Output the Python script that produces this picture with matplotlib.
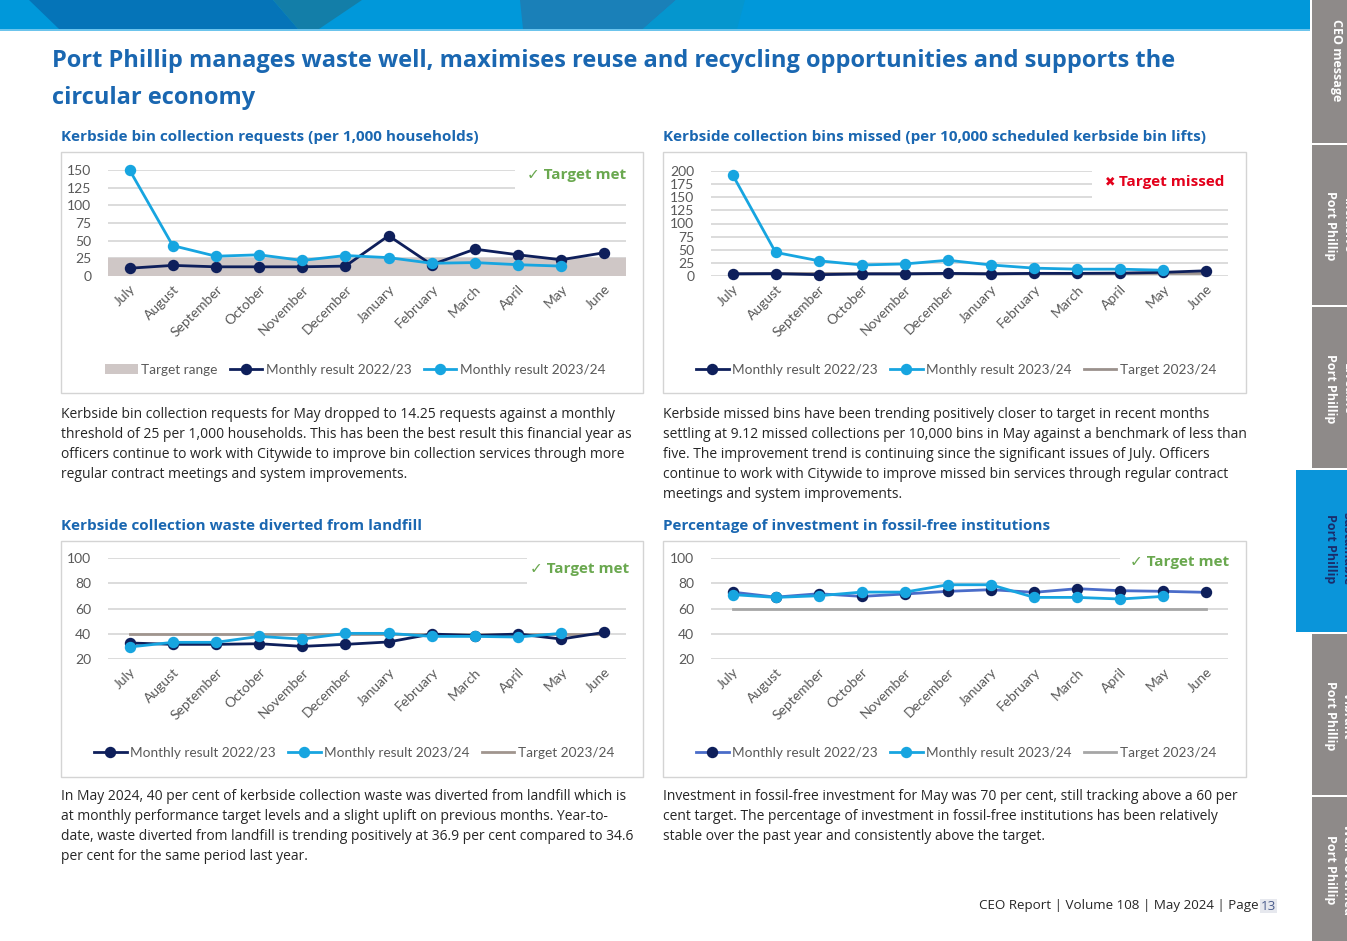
import matplotlib
matplotlib.use("Agg")
import matplotlib.pyplot as plt
from matplotlib.patches import Rectangle, Polygon, Patch
from matplotlib.lines import Line2D

W, H = 1347, 941

months = ["July", "August", "September", "October", "November", "December",
          "January", "February", "March", "April", "May", "June"]

# Kerbside bin collection requests (per 1,000 households)
req_2223 = [11, 15, 13, 13, 13, 14, 57, 16, 38, 30, 23, 33]
req_2324 = [150, 43, 28, 30, 22, 29, 26, 18, 19, 16, 14]
req_target_range = 25

# Kerbside collection bins missed (per 10,000 lifts)
missed_2223 = [4, 4.5, 2.5, 4, 4, 5, 4, 5, 5, 5.5, 7, 10]
missed_2324 = [193, 45, 29, 21, 23, 30, 21, 15, 13, 13, 11]
missed_target = 5

# Waste diverted from landfill (%)
landfill_2223 = [32.7, 31.6, 31.6, 32.1, 30, 31.6, 33.5, 39.8, 38.5, 39.8, 35.8, 41.1]
landfill_2324 = [29.5, 33.2, 33.2, 37.9, 35.8, 40.3, 40.3, 37.9, 37.9, 37.4, 40.3]
landfill_target = 40

# Investment in fossil-free institutions (%)
fossil_2223 = [73, 69, 71.7, 69.6, 71.5, 73.6, 74.9, 72.8, 75.7, 74.1, 73.6, 72.8]
fossil_2324 = [71, 68.8, 70.1, 73, 73, 78.8, 78.8, 68.8, 68.8, 67.5, 69.6]
fossil_target = 60

NAVY = "#0E1F5B"
LIGHT = "#17A5E0"
MID = "#4A6CC9"
GRID = "#D9D9D9"
TICK = "#595959"
BLUE_TXT = "#1A67B1"
GREEN = "#6AA84F"
RED = "#E3001B"

BODY_FONT = ["Open Sans", "DejaVu Sans"]
CHART_FONT = ["Lato", "DejaVu Sans"]

fig = plt.figure(figsize=(W / 100, H / 100), dpi=100)
fig.patch.set_facecolor("white")


def fx(x):
    return x / W


def fy(y):
    return 1 - y / H


def rect(l, t, r, b):
    return [l / W, 1 - b / H, (r - l) / W, (b - t) / H]


def ftext(x, y, s, **kw):
    fig.text(fx(x), fy(y), s, **kw)


# ── top banner ────────────────────────────────────────────
fig.patches.append(Rectangle((0, fy(29)), fx(1310), 29 / H, transform=fig.transFigure,
                             facecolor="#0098DA", edgecolor="none"))
fig.patches.append(Rectangle((0, fy(31)), fx(1310), 2 / H, transform=fig.transFigure,
                             facecolor="#6CC4EC", edgecolor="none"))
banner_polys = [
    ([(29, 0), (273, 0), (298, 29), (59, 29)], "#0574B8"),
    ([(273, 0), (362, 0), (319, 29), (298, 29)], "#137EA8"),
    ([(520, 0), (676, 0), (643, 29), (523, 29)], "#1A80B8"),
    ([(676, 0), (745, 0), (737, 29), (643, 29)], "#0596CE"),
]
for pts, col in banner_polys:
    fig.patches.append(Polygon([(fx(a), fy(b)) for a, b in pts], closed=True,
                               transform=fig.transFigure, facecolor=col, edgecolor="none"))

# ── right side tabs ───────────────────────────────────────
tabs = [
    (0, 143, "CEO message", None),
    (145, 305, "Port Phillip", "Inclusive"),
    (307, 468, "Port Phillip", "Liveable"),
    (634, 795, "Port Phillip", "Vibrant"),
    (797, 941, "Port Phillip", "Well-Governed"),
]
for t, b, line2, line1 in tabs:
    fig.patches.append(Rectangle((fx(1312), fy(b)), fx(35), (b - t) / H,
                                 transform=fig.transFigure, facecolor="#8E8A89",
                                 edgecolor="none"))
    mid = (t + b) / 2
    if line1 is None:
        ftext(1337, t + 60, line2, rotation=270, ha="center", va="center",
              color="white", fontsize=9, fontweight="bold", family=BODY_FONT)
    else:
        ftext(1331, mid + 1, line2, rotation=270, ha="center", va="center",
              color="white", fontsize=9, fontweight="bold", family=BODY_FONT)
        ftext(1347, mid + 1, line1, rotation=270, ha="center", va="center",
              color="white", fontsize=9, fontweight="bold", family=BODY_FONT)
fig.patches.append(Rectangle((fx(1296), fy(632)), fx(51), 162 / H,
                             transform=fig.transFigure, facecolor="#0A95DA",
                             edgecolor="none"))
ftext(1331, 549, "Port Phillip", rotation=270, ha="center", va="center",
      color="#1B2C6B", fontsize=9, fontweight="bold", family=BODY_FONT)
ftext(1347, 549, "Sustainable", rotation=270, ha="center", va="center",
      color="#1B2C6B", fontsize=9, fontweight="bold", family=BODY_FONT)

# ── page title ────────────────────────────────────────────
ftext(52, 61, "Port Phillip manages waste well, maximises reuse and recycling "
      "opportunities and supports the", fontsize=17, fontweight="bold",
      color=BLUE_TXT, va="center", family=BODY_FONT)
ftext(52, 98, "circular economy", fontsize=17, fontweight="bold",
      color=BLUE_TXT, va="center", family=BODY_FONT)

# ── chart panels ──────────────────────────────────────────
panels = [
    dict(box=(61, 152, 643, 393), ax=(108, 170, 626, 276), lim=(0, 150), step=25,
         title="Kerbside bin collection requests (per 1,000 households)",
         s1=req_2223, s2=req_2324, target=None, band=req_target_range,
         c1=NAVY, tcol=None, leg_xy=(355, 370), badge="met", badge_xy=(527, 175),
         mask=(515, 160, 640, 196)),
    dict(box=(663, 152, 1246, 393), ax=(711, 171, 1228, 276), lim=(0, 200), step=25,
         title="Kerbside collection bins missed (per 10,000 scheduled kerbside bin lifts)",
         s1=missed_2223, s2=missed_2324, target=missed_target, band=None,
         c1=NAVY, tcol="#9A918C", leg_xy=(956, 370), badge="missed", badge_xy=(1105, 182),
         mask=(1092, 163, 1240, 203)),
    dict(box=(61, 541, 643, 777), ax=(108, 558, 626, 659), lim=(20, 100), step=20,
         title="Kerbside collection waste diverted from landfill",
         s1=landfill_2223, s2=landfill_2324, target=landfill_target, band=None,
         c1=NAVY, tcol="#A0958E", leg_xy=(354, 753), badge="met", badge_xy=(530, 569),
         mask=(527, 550, 640, 590)),
    dict(box=(663, 541, 1246, 777), ax=(711, 558, 1228, 659), lim=(20, 100), step=20,
         title="Percentage of investment in fossil-free institutions",
         s1=fossil_2223, s2=fossil_2324, target=fossil_target, band=None,
         c1=MID, tcol="#A6A6A6", leg_xy=(956, 753), badge="met", badge_xy=(1130, 562),
         mask=(1120, 550, 1240, 572)),
]

for p in panels:
    l, t, r, b = p["box"]
    fig.patches.append(Rectangle((fx(l), fy(b)), (r - l) / W, (b - t) / H,
                                 transform=fig.transFigure, facecolor="none",
                                 edgecolor="#D4D4D4", linewidth=1.0))
    ftext(l, t - 15, p["title"], fontsize=11, fontweight="bold", color=BLUE_TXT,
          va="center", family=BODY_FONT)

    ax = fig.add_axes(rect(*p["ax"]))
    ax.set_facecolor("none")
    lo, hi = p["lim"]
    x = list(range(len(months)))
    ax.set_xlim(-0.5, len(months) - 0.5)
    ax.set_ylim(lo, hi)
    ax.set_yticks(list(range(lo, hi + 1, p["step"])))
    ax.set_axisbelow(True)
    ax.grid(axis="y", color=GRID, linewidth=1.3)
    for sp in ax.spines.values():
        sp.set_visible(False)
    ax.tick_params(length=0, colors=TICK, labelsize=10)
    ax.tick_params(axis="y", pad=12)
    ax.tick_params(axis="x", pad=5)
    ax.set_xticks(x)
    ax.set_xticklabels(months, rotation=45, ha="right", va="top",
                       rotation_mode="anchor", fontsize=10, color=TICK)
    for lab in ax.get_xticklabels() + ax.get_yticklabels():
        lab.set_family(CHART_FONT)

    ml, mt, mr, mb = p["mask"]
    ax.add_patch(Rectangle((fx(ml), fy(mb)), (mr - ml) / W, (mb - mt) / H,
                           transform=fig.transFigure, facecolor="white",
                           edgecolor="none", zorder=1, clip_on=False))

    handles = []
    if p["band"] is not None:
        ax.axhspan(0, p["band"], color="#CFC7C6", zorder=1.5)
        handles.append(Patch(facecolor="#CFC7C6", label="Target range"))
    if p["target"] is not None:
        ax.plot(x, [p["target"]] * len(x), color=p["tcol"], linewidth=2, zorder=2)
    ax.plot(x, p["s1"], color=p["c1"], linewidth=2, marker="o", markersize=7.2,
            markerfacecolor=NAVY, markeredgecolor=NAVY, zorder=3, clip_on=False)
    ax.plot(x[:len(p["s2"])], p["s2"], color=LIGHT, linewidth=2, marker="o",
            markersize=7.2, markerfacecolor=LIGHT, markeredgecolor=LIGHT, zorder=4,
            clip_on=False)
    handles.append(Line2D([], [], color=p["c1"], linewidth=2, marker="o", markersize=7.2,
                          markerfacecolor=NAVY, markeredgecolor=NAVY,
                          label="Monthly result 2022/23"))
    handles.append(Line2D([], [], color=LIGHT, linewidth=2, marker="o", markersize=7.2,
                          label="Monthly result 2023/24"))
    if p["target"] is not None:
        handles.append(Line2D([], [], color=p["tcol"], linewidth=2,
                              label="Target 2023/24"))

    lx, ly = p["leg_xy"]
    leg = ax.legend(handles=handles, loc="center", ncol=len(handles),
                    bbox_to_anchor=(fx(lx), fy(ly)), bbox_transform=fig.transFigure,
                    frameon=False, fontsize=9.8, handlelength=2.4,
                    handletextpad=0.25, columnspacing=0.9, labelcolor=TICK)
    for txt in leg.get_texts():
        txt.set_family(CHART_FONT)

    bx, by = p["badge_xy"]
    if p["badge"] == "met":
        ftext(bx, by, "✓ Target met", fontsize=11, fontweight="bold", color=GREEN,
              va="center", family=["Open Sans", "DejaVu Sans"])
    else:
        ftext(bx, by, "✖", fontsize=9, color=RED, va="center", family=["DejaVu Sans"])
        ftext(bx + 14, by, "Target missed", fontsize=11, fontweight="bold", color=RED,
              va="center", family=BODY_FONT)

# ── body paragraphs ───────────────────────────────────────
paragraphs = [
    (61, 415, [
        "Kerbside bin collection requests for May dropped to 14.25 requests against a monthly",
        "threshold of 25 per 1,000 households. This has been the best result this financial year as",
        "officers continue to work with Citywide to improve bin collection services through more",
        "regular contract meetings and system improvements.",
    ]),
    (663, 415, [
        "Kerbside missed bins have been trending positively closer to target in recent months",
        "settling at 9.12 missed collections per 10,000 bins in May against a benchmark of less than",
        "five. The improvement trend is continuing since the significant issues of July. Officers",
        "continue to work with Citywide to improve missed bin services through regular contract",
        "meetings and system improvements.",
    ]),
    (61, 797, [
        "In May 2024, 40 per cent of kerbside collection waste was diverted from landfill which is",
        "at monthly performance target levels and a slight uplift on previous months. Year-to-",
        "date, waste diverted from landfill is trending positively at 36.9 per cent compared to 34.6",
        "per cent for the same period last year.",
    ]),
    (663, 797, [
        "Investment in fossil-free investment for May was 70 per cent, still tracking above a 60 per",
        "cent target. The percentage of investment in fossil-free institutions has been relatively",
        "stable over the past year and consistently above the target.",
    ]),
]
for px, py, lines in paragraphs:
    for i, line in enumerate(lines):
        ftext(px, py + i * 19.8, line, fontsize=10, color="#262626", va="center",
              family=BODY_FONT)

# ── footer ────────────────────────────────────────────────
ftext(1276, 906, "13", fontsize=9.6, color="#4A5C8C", ha="right", va="center",
      family=BODY_FONT, bbox=dict(facecolor="#E6E8EE", edgecolor="none", pad=0.5))
ftext(1259, 906, "CEO Report | Volume 108 | May 2024 | Page", fontsize=9.6,
      color="#262626", ha="right", va="center", family=BODY_FONT)

fig.savefig("out.png", dpi=100)
